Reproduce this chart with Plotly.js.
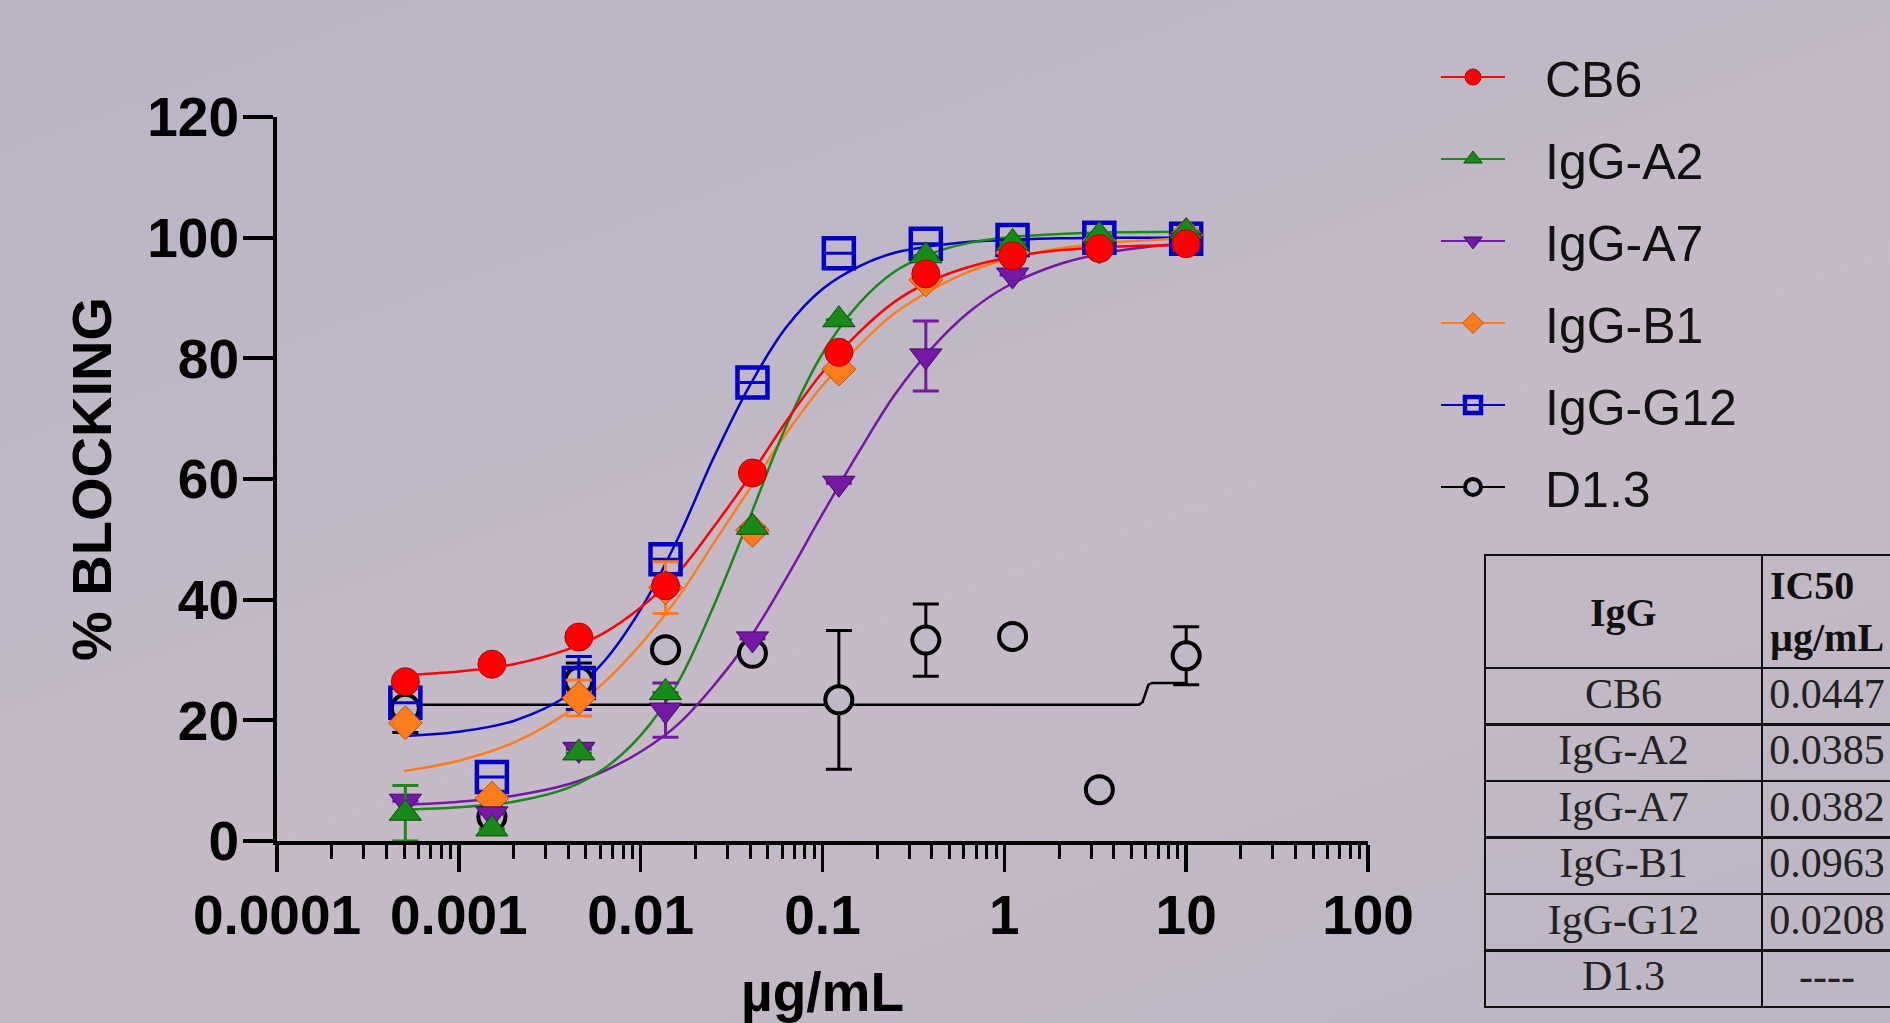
<!DOCTYPE html>
<html>
<head>
<meta charset="utf-8">
<script src="https://cdn.plot.ly/plotly-3.0.1.min.js"></script>
<style>
  html, body { margin: 0; padding: 0; overflow: hidden; }
  body {
    width: 1890px; height: 1023px;
    background: linear-gradient(160deg, #bab4c5 0%, #c0b8c6 35%, #c6bac7 55%, #c2b8c6 75%, #bdb6c5 100%);
  }
  #wrap { width: 1890px; height: 1023px; overflow: hidden; position: relative; }
  #chart { width: 1940px; height: 1023px; }
</style>
</head>
<body>
<div id="wrap"><div id="chart"></div></div>
<script>
// ---------- data ----------
const seriesNames = ['CB6', 'IgG-A2', 'IgG-A7', 'IgG-B1', 'IgG-G12', 'D1.3'];
const concentration = [0.000508, 0.00152, 0.00457, 0.0137, 0.0412, 0.123, 0.370, 1.11, 3.33, 10];

// null = error bar hidden behind the marker in the picture
const cb6    = [26.4, 29.3, 33.8, 42.3, 61.0, 81.0, 94.0, 97.0, 98.2, 99.0];
const cb6Err = [null, null, null, null, null, null, null, null, null, null];
const igA2    = [4.6, 2.0, 14.6, 24.6, 52.0, 86.4, 97.0, 99.2, 100.4, 101.0];
const igA2Err = [4.6, null, null, null, null, null, null, null, null, null];
const igA7    = [6.6, 4.5, 15.2, 21.7, 33.5, 59.3, 80.4, 93.8, 98.0, 99.6];
const igA7Err = [null, null, null, 4.5, null, null, 5.8, null, null, null];
const igB1    = [19.6, 7.1, 23.7, 42.0, 51.5, 78.2, 93.0, 97.5, 99.5, 100.5];
const igB1Err = [null, null, 3.0, 4.3, null, null, null, null, null, null];
const igG12    = [22.9, 10.6, 26.2, 46.7, 76.0, 97.4, 99.0, 99.6, 100.0, 99.8];
const igG12Err = [null, null, 4.4, null, null, null, null, null, null, null];
const d13    = [22.0, 4.0, 26.5, 31.7, 31.1, 23.4, 33.3, 33.9, 8.5, 30.7];
const d13Err = [4.0, null, 3.0, null, null, 11.5, 6.0, null, null, 4.8];

// fitted curves
const fitConc = [0.0005, 0.001, 0.002, 0.004, 0.0063, 0.01, 0.016, 0.025, 0.04, 0.063, 0.1, 0.16, 0.25, 0.4, 0.63, 1, 2, 4, 10];
const cb6Fit  = [27.5, 28.1, 29.3, 31.8, 34.5, 38.7, 44.4, 51.9, 60.5, 69.5, 77.7, 84.4, 89.4, 92.9, 95.1, 96.6, 97.9, 98.5, 98.8];
const igA2Fit = [5.2, 5.6, 6.5, 8.8, 12.0, 17.5, 26.2, 38.7, 53.8, 68.7, 80.8, 89.2, 94.4, 97.4, 99.1, 100.0, 100.6, 100.9, 101.0];
const igA7Fit = [6.0, 6.5, 7.5, 9.4, 11.6, 14.8, 19.3, 25.6, 33.7, 43.5, 54.2, 64.7, 74.0, 81.7, 87.5, 91.7, 95.6, 97.7, 99.1];
const igB1Fit = [11.6, 13.3, 16.3, 21.4, 26.3, 32.6, 40.3, 49.2, 58.5, 67.5, 75.5, 82.2, 87.5, 91.4, 94.3, 96.3, 98.2, 99.2, 99.9];
const igG12Fit = [17.4, 18.1, 19.9, 24.2, 29.8, 38.4, 50.1, 63.3, 75.6, 85.1, 91.5, 95.3, 97.5, 98.6, 99.3, 99.6, 99.9, 100.0, 100.0];
const d13FitConc = [0.0005, 0.01, 0.1, 1, 5.5, 5.75, 5.9, 6.05, 6.2, 6.5, 10];
const d13Fit     = [22.6, 22.6, 22.6, 22.6, 22.6, 23.0, 24.0, 25.2, 25.9, 26.2, 26.2];

const xTickVals = [0.0001, 0.001, 0.01, 0.1, 1, 10, 100];
const xTickText = ['0.0001', '0.001', '0.01', '0.1', '1', '10', '100'];
const yTickVals = [0, 20, 40, 60, 80, 100, 120];

const tableHeaderFirst = 'IgG';
const tableHeaderSecond = ['IC50', 'µg/mL'];
const tableNames = ['CB6', 'IgG-A2', 'IgG-A7', 'IgG-B1', 'IgG-G12', 'D1.3'];
const tableIC50  = ['0.0447', '0.0385', '0.0382', '0.0963', '0.0208', '----'];

// ---------- styles ----------
const BG = '#c0b8c6';
const styles = {
  'CB6':     {color: '#ff0000', fill: '#ff0000', edge: '#b00000', symbol: 'circle', size: 28, lw: 1},
  'IgG-A2':  {color: '#178a17', fill: '#178a17', edge: '#0b4f0b', symbol: 'triangle-up', size: 28, lw: 1},
  'IgG-A7':  {color: '#7518a6', fill: '#7518a6', edge: '#45086a', symbol: 'triangle-down', size: 28, lw: 1},
  'IgG-B1':  {color: '#ff7c1c', fill: '#ff7c1c', edge: '#b85208', symbol: 'diamond', size: 26, lw: 1},
  'IgG-G12': {color: '#0000c4', fill: '#0000c4', edge: '#0000c4', symbol: 'square-open', size: 30, lw: 4.5},
  'D1.3':    {color: '#000000', fill: BG, edge: '#000000', symbol: 'circle', size: 27, lw: 4}
};
const seriesData = {
  'CB6': [cb6, cb6Err, fitConc, cb6Fit],
  'IgG-A2': [igA2, igA2Err, fitConc, igA2Fit],
  'IgG-A7': [igA7, igA7Err, fitConc, igA7Fit],
  'IgG-B1': [igB1, igB1Err, fitConc, igB1Fit],
  'IgG-G12': [igG12, igG12Err, fitConc, igG12Fit],
  'D1.3': [d13, d13Err, d13FitConc, d13Fit]
};

// drawing order bottom -> top (reverse of legend order)
const drawOrder = seriesNames.slice().reverse();
const traces = [];
drawOrder.forEach(name => {
  const s = styles[name], d = seriesData[name];
  traces.push({
    type: 'scatter', mode: 'lines', x: d[2], y: d[3],
    line: {color: s.color, width: 2.5, shape: name === 'D1.3' ? 'linear' : 'spline', smoothing: 1},
    showlegend: false, hoverinfo: 'skip', cliponaxis: false
  });
});
// data points with error bars (null gaps so only the legend shows a line)
function gap(arr) { const out = []; arr.forEach((v, i) => { if (i) out.push(null); out.push(v); }); return out; }
drawOrder.forEach(name => {
  const s = styles[name], d = seriesData[name];
  traces.push({
    type: 'scatter', mode: 'lines+markers',
    name: '\u2002\u2009' + name, legendgroup: name, legendrank: seriesNames.indexOf(name) + 1,
    x: gap(concentration), y: gap(d[0]), connectgaps: false,
    line: {color: s.color, width: 2.2},
    marker: {symbol: s.symbol, size: s.size, color: s.fill, line: {color: s.edge, width: s.lw}},
    error_y: {type: 'data', array: gap(d[1]), visible: true, color: s.color, thickness: 3, width: 13},
    cliponaxis: false
  });
});
// table
traces.push({
  type: 'table',
  domain: {x: [1485 / 1940, 1892 / 1940], y: [0, 1 - 555 / 1023]},
  columnwidth: [277, 130],
  header: {
    values: [[''], ['<b>' + tableHeaderSecond.join('</b><br><b>') + '</b>']],
    align: 'center', height: 112,
    fill: {color: 'rgba(0,0,0,0)'},
    line: {color: '#111111', width: 2.5},
    font: {family: 'Liberation Serif, DejaVu Serif, serif', size: 40, color: '#111111'}
  },
  cells: {
    values: [tableNames, tableIC50],
    align: 'center', height: 56.5,
    fill: {color: 'rgba(0,0,0,0)'},
    line: {color: '#111111', width: 2.5},
    font: {family: 'Liberation Serif, DejaVu Serif, serif', size: 42, color: '#222222'}
  }
});

const axisFont = {family: 'Liberation Sans, Arial, sans-serif', size: 55, color: '#000000', weight: 'bold'};
const minorVals = [];
[-4, -3, -2, -1, 0, 1].forEach(e => { for (let m = 2; m <= 9; m++) minorVals.push(m * Math.pow(10, e)); });

const layout = {
  width: 1940, height: 1023,
  margin: {l: 0, r: 0, t: 0, b: 0},
  paper_bgcolor: 'rgba(0,0,0,0)', plot_bgcolor: 'rgba(0,0,0,0)',
  showlegend: true,
  xaxis: {
    type: 'log', range: [-4, 2], domain: [277 / 1940, 1368 / 1940],
    tickmode: 'array', tickvals: xTickVals, ticktext: xTickText,
    ticks: 'outside', ticklen: 27, tickwidth: 3.5, tickcolor: '#000',
    ticklabelstandoff: -4,
    showline: true, linecolor: '#000', linewidth: 4,
    showgrid: false, zeroline: false,
    tickfont: axisFont,
    minor: {tickmode: 'array', tickvals: minorVals, ticks: 'outside', ticklen: 14, tickwidth: 3, tickcolor: '#000', showgrid: false},
    title: {text: 'µg/mL', font: axisFont, standoff: 49}
  },
  yaxis: {
    range: [0, 120], domain: [1 - 841 / 1023, 1 - 117 / 1023],
    tickmode: 'array', tickvals: yTickVals,
    ticks: 'outside', ticklen: 30, tickwidth: 4, tickcolor: '#000',
    ticklabelstandoff: -7,
    showline: true, linecolor: '#000', linewidth: 4,
    showgrid: false, zeroline: false,
    tickfont: axisFont,
    title: {text: '% BLOCKING', font: {family: 'Liberation Sans, Arial, sans-serif', size: 56, color: '#000', weight: 'bold'}, standoff: 19}
  },
  legend: {
    x: 1436 / 1940, y: 1 - 38 / 1023, xanchor: 'left', yanchor: 'top',
    bgcolor: 'rgba(0,0,0,0)', borderwidth: 0,
    traceorder: 'grouped', tracegroupgap: 14, itemwidth: 64,
    font: {family: 'Liberation Sans, Arial, sans-serif', size: 50, color: '#111111'}
  },
  annotations: [{
    xref: 'paper', yref: 'paper', x: (1485 + 1762) / 2 / 1940, y: 1 - 612 / 1023,
    xanchor: 'center', yanchor: 'middle', showarrow: false,
    text: '<b>' + tableHeaderFirst + '</b>',
    font: {family: 'Liberation Serif, DejaVu Serif, serif', size: 40, color: '#111111'}
  }]
};

Plotly.newPlot('chart', traces, layout, {displayModeBar: false, staticPlot: true});
</script>
</body>
</html>
